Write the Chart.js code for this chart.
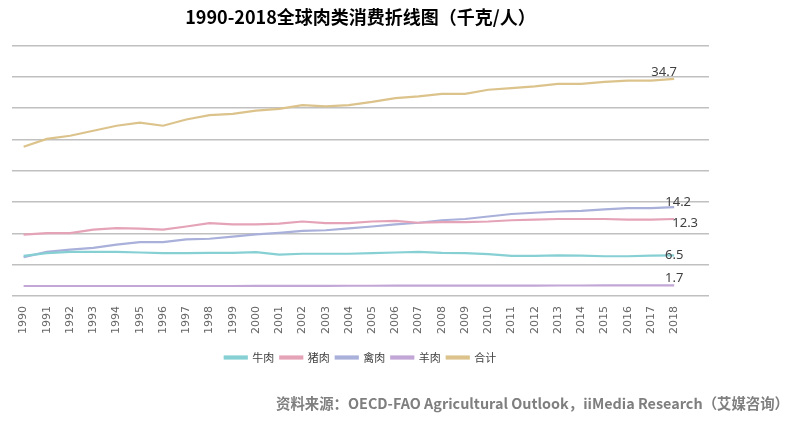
<!DOCTYPE html>
<html>
<head>
<meta charset="utf-8">
<script src="https://cdn.jsdelivr.net/npm/chart.js@4"></script>
<style>
  html, body { margin: 0; padding: 0; background: #fff; }
  #wrap { width: 800px; height: 436px; }
</style>
</head>
<body>
<div id="wrap"><canvas id="meatChart" width="800" height="436"></canvas></div>
<script>
const years = ['1990', '1991', '1992', '1993', '1994', '1995', '1996', '1997', '1998', '1999',
  '2000', '2001', '2002', '2003', '2004', '2005', '2006', '2007', '2008', '2009',
  '2010', '2011', '2012', '2013', '2014', '2015', '2016', '2017', '2018'];

const beef = [6.4, 6.85, 7.05, 7.05, 7.05, 6.95, 6.85, 6.85, 6.9, 6.9,
  7.0, 6.6, 6.75, 6.75, 6.75, 6.85, 6.95, 7.05, 6.9, 6.85,
  6.7, 6.4, 6.4, 6.5, 6.45, 6.35, 6.35, 6.45, 6.5];
const pork = [9.8, 10.05, 10.05, 10.6, 10.85, 10.75, 10.6, 11.1, 11.65, 11.45,
  11.45, 11.55, 11.9, 11.65, 11.65, 11.9, 12.0, 11.7, 11.8, 11.8,
  11.9, 12.1, 12.2, 12.3, 12.3, 12.3, 12.2, 12.2, 12.3];
const poultry = [6.2, 7.05, 7.4, 7.7, 8.2, 8.6, 8.6, 9.05, 9.15, 9.5,
  9.85, 10.1, 10.4, 10.5, 10.8, 11.1, 11.45, 11.7, 12.1, 12.3,
  12.7, 13.1, 13.3, 13.5, 13.6, 13.85, 14.05, 14.05, 14.2];
const mutton = [1.6, 1.6, 1.6, 1.6, 1.6, 1.6, 1.6, 1.6, 1.6, 1.6,
  1.62, 1.62, 1.62, 1.62, 1.64, 1.64, 1.65, 1.65, 1.66, 1.66,
  1.66, 1.67, 1.67, 1.68, 1.68, 1.69, 1.69, 1.7, 1.7];
const total = [23.85, 25.1, 25.6, 26.4, 27.2, 27.7, 27.2, 28.2, 28.9, 29.1,
  29.6, 29.9, 30.5, 30.3, 30.5, 31.0, 31.6, 31.9, 32.3, 32.3,
  32.95, 33.2, 33.5, 33.9, 33.9, 34.2, 34.4, 34.4, 34.7];

const seriesNames = ['牛肉', '猪肉', '禽肉', '羊肉', '合计'];
const yTicks = [0, 5, 10, 15, 20, 25, 30, 35, 40];

const colors = ['#86d0d4', '#e5a3b8', '#a9b0da', '#c2a6d6', '#dcc38c'];
// where the end label sits, relative to the last point
const labelShift = [[0, 0], [11, 4], [4, -5], [0, -7], [-10, -6]];

const endLabels = {
  id: 'endLabels',
  afterDatasetsDraw(chart) {
    const c = chart.ctx;
    c.save();
    c.font = '13px "Noto Sans", sans-serif';
    c.fillStyle = '#404040';
    c.textAlign = 'center';
    c.textBaseline = 'middle';
    chart.data.datasets.forEach((ds, i) => {
      const meta = chart.getDatasetMeta(i);
      const last = meta.data[ds.data.length - 1];
      c.fillText(ds.data[ds.data.length - 1].toFixed(1), last.x + labelShift[i][0], last.y + labelShift[i][1]);
    });
    c.restore();
  }
};

const sourceNote = {
  id: 'sourceNote',
  afterDraw(chart) {
    const c = chart.ctx;
    c.save();
    c.font = 'bold 14.4px "Noto Sans CJK SC", sans-serif';
    c.fillStyle = '#7f7f7f';
    c.textAlign = 'right';
    c.textBaseline = 'middle';
    c.fillText('资料来源：OECD-FAO Agricultural Outlook，iiMedia Research（艾媒咨询）', 789, 404);
    c.restore();
  }
};

const ctx = document.getElementById('meatChart').getContext('2d');

new Chart(ctx, {
  type: 'line',
  data: {
    labels: [...years, ''],
    datasets: [beef, pork, poultry, mutton, total].map((d, i) => ({
      label: seriesNames[i],
      data: d,
      borderColor: colors[i],
      backgroundColor: colors[i],
      borderWidth: 2.2,
      pointRadius: 0,
      tension: 0
    }))
  },
  options: {
    responsive: false,
    animation: false,
    layout: { padding: { left: 12, right: 91, top: 0, bottom: 63 } },
    plugins: {
      title: {
        display: true,
        text: '1990-2018全球肉类消费折线图（千克/人）',
        color: '#000',
        font: { family: '"Noto Sans CJK SC", sans-serif', size: 18, weight: 'bold' },
        padding: { top: 6, bottom: 18 }
      },
      legend: {
        position: 'bottom',
        labels: {
          boxWidth: 22,
          boxHeight: 2,
          padding: 6,
          color: '#404040',
          font: { family: '"Noto Sans CJK SC", sans-serif', size: 11 }
        }
      },
      tooltip: { enabled: false }
    },
    scales: {
      x: {
        offset: true,
        grid: { display: false },
        border: { display: false },
        afterFit: axis => { axis.height += 10; },
        ticks: {
          color: '#666666',
          font: { family: '"DejaVu Sans", sans-serif', size: 11 },
          minRotation: 90,
          maxRotation: 90,
          autoSkip: false,
          padding: 2
        }
      },
      y: {
        min: yTicks[0],
        max: yTicks[yTicks.length - 1],
        afterBuildTicks: axis => { axis.ticks = yTicks.map(v => ({ value: v })); },
        grid: { color: '#c0c0c0', lineWidth: 1.5, drawTicks: false },
        border: { display: false },
        ticks: { display: false }
      }
    }
  },
  plugins: [endLabels, sourceNote]
});
</script>
</body>
</html>
